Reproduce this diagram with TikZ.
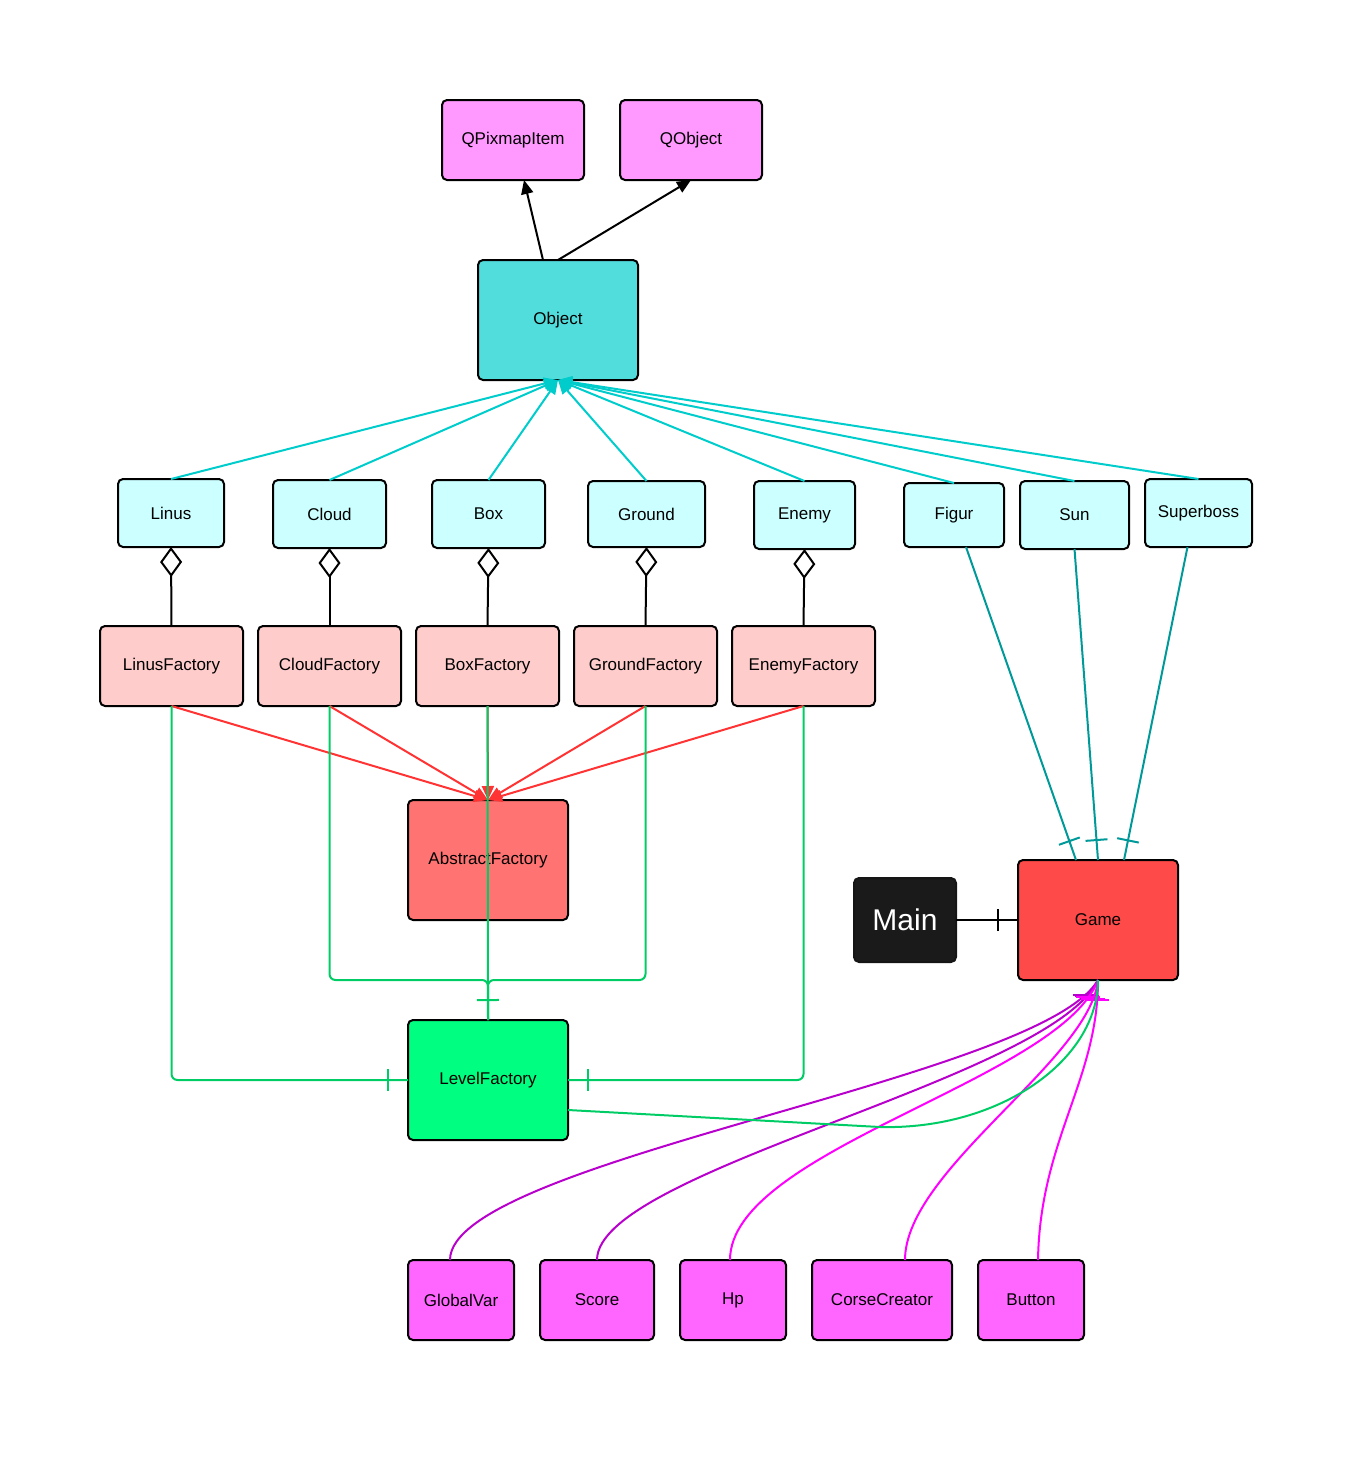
\documentclass[tikz,border=0pt]{standalone}
\usepackage{fontspec}
\setmainfont{Liberation Sans}
\usepackage{tikz}
\usetikzlibrary{positioning, arrows.meta, decorations.markings}
\definecolor{qtrosa}{HTML}{FF99FF}
\definecolor{objtuerkis}{HTML}{52DDDD}
\definecolor{hellcyan}{HTML}{CCFFFF}
\definecolor{hellrot}{HTML}{FFCCCC}
\definecolor{abstraktrot}{HTML}{FF7373}
\definecolor{spielrot}{HTML}{FF4A4A}
\definecolor{levelgruen}{HTML}{00FF80}
\definecolor{teilrosa}{HTML}{FF66FF}
\definecolor{mainschwarz}{HTML}{1A1A1A}
\definecolor{tuerkis}{HTML}{00CCCC}
\definecolor{dunkeltuerkis}{HTML}{009999}
\definecolor{pfeilrot}{HTML}{FF3333}
\definecolor{liniengruen}{HTML}{00CC66}
\definecolor{lila}{HTML}{B800CC}
\definecolor{magenta}{HTML}{FF00FF}

\begin{document}
\begin{tikzpicture}[x=1pt, y=-1pt,
    node distance=15pt and 15pt,
    every node/.style={font=\fontsize{17}{20}\selectfont},
    kasten/.style={draw=black, line width=2pt, rounded corners=5pt, align=center,
        inner sep=0pt, outer sep=0pt},
    qt/.style={kasten, fill=qtrosa, minimum width=142pt, minimum height=80pt},
    klasse/.style={kasten, fill=hellcyan, minimum height=68pt},
    fabrik/.style={kasten, fill=hellrot, minimum width=143pt, minimum height=80pt},
    gross/.style={kasten, minimum width=160pt, minimum height=120pt},
    teil/.style={kasten, fill=teilrosa, minimum height=80pt},
    erbt/.style={-{Triangle[length=14pt, width=12pt]}, line width=2pt, color=#1},
    aggr/.style={-{Diamond[open, length=30pt, width=22pt]}, line width=2pt},
    eins/.style={postaction={decorate, decoration={markings,
        mark=at position -20pt with {\draw[-, line width=2pt] (0,-11pt) -- (0,11pt);}}}},
    unten/.style={postaction={decorate, decoration={markings,
        mark=at position 20pt with {\pgftransformresetnontranslations
          \draw[-, line width=2pt] (-12pt,0) -- (12pt,0);}}}},
    gruenlinie/.style={line width=2pt, color=liniengruen, rounded corners=6pt},
    spiellinie/.style={line width=2pt, color=#1, unten}
]
\useasboundingbox (0,0) rectangle (1363,1476);

% Qt-Basisklassen und Object
\node[qt] (qpix) at (513,140) {QPixmapItem};
\node[qt] (qobj) at (691,140) {QObject};
\node[gross, fill=objtuerkis] (obj) at (558,320) {Object};

% Spielobjekte
\node[klasse, minimum width=106pt] (linus) at (171,513) {Linus};
\node[klasse, minimum width=113pt] (cloud) at (329.5,514) {Cloud};
\node[klasse, minimum width=113pt] (boxc) at (488.5,514) {Box};
\node[klasse, minimum width=117pt, minimum height=66pt] (ground) at (646.5,514) {Ground};
\node[klasse, minimum width=101pt] (enemy) at (804.5,515) {Enemy};
\node[klasse, minimum width=100pt, minimum height=64pt] (figur) at (954,515) {Figur};
\node[klasse, minimum width=109pt] (sun) at (1074.5,515) {Sun};
\node[klasse, minimum width=107pt] (superboss) at (1198.5,513) {Superboss};

% Fabriken
\node[fabrik] (lf) at (171.5,666) {LinusFactory};
\node[fabrik, right=of lf] (cf) {CloudFactory};
\node[fabrik, right=of cf] (bf) {BoxFactory};
\node[fabrik, right=of bf] (gf) {GroundFactory};
\node[fabrik, right=of gf] (ef) {EnemyFactory};
\node[gross, fill=abstraktrot] (abs) at (488,860) {AbstractFactory};
\node[gross, fill=levelgruen] (lvl) at (488,1080) {LevelFactory};

% Spiel
\node[kasten, fill=mainschwarz, draw=mainschwarz!80!black, text=white,
    font=\fontsize{30}{36}\selectfont, minimum width=102pt, minimum height=84pt] (main) at (905,920) {Main};
\node[gross, fill=spielrot] (game) at (1098,920) {Game};

\node[teil, minimum width=106pt] (gv) at (461,1300) {GlobalVar};
\node[teil, minimum width=114pt, right=26pt of gv] (score) {Score};
\node[teil, minimum width=106pt, right=26pt of score] (hp) {Hp};
\node[teil, minimum width=140pt, right=26pt of hp] (cc) {CorseCreator};
\node[teil, minimum width=106pt, right=26pt of cc] (btn) {Button};

% Vererbung
\draw[erbt=black] ([xshift=-15pt]obj.north) -- ([xshift=11pt]qpix.south);
\draw[erbt=black] (obj.north) -- (qobj.south);
\draw[erbt=tuerkis] (linus.north) -- (obj.south);
\draw[erbt=tuerkis] (cloud.north) -- (obj.south);
\draw[erbt=tuerkis] (boxc.north) -- (obj.south);
\draw[erbt=tuerkis] (ground.north) -- (obj.south);
\draw[erbt=tuerkis] (enemy.north) -- (obj.south);
\draw[erbt=tuerkis] (figur.north) -- (obj.south);
\draw[erbt=tuerkis] (sun.north) -- (obj.south);
\draw[erbt=tuerkis] (superboss.north) -- (obj.south);

% Aggregation
\draw[aggr] (lf.north) -- (linus.south);
\draw[aggr] (cf.north) -- (cloud.south);
\draw[aggr] (bf.north) -- (boxc.south);
\draw[aggr] (gf.north) -- (ground.south);
\draw[aggr] (ef.north) -- (enemy.south);

\draw[erbt=pfeilrot] (lf.south) -- (abs.north);
\draw[erbt=pfeilrot] (cf.south) -- (abs.north);
\draw[erbt=pfeilrot] (bf.south) -- (abs.north);
\draw[erbt=pfeilrot] (gf.south) -- (abs.north);
\draw[erbt=pfeilrot] (ef.south) -- (abs.north);

% LevelFactory
\draw[gruenlinie] (cf.south) -- ++(0,274) -| (lvl.north);
\draw[gruenlinie] (gf.south) -- ++(0,274) -| (lvl.north);
\draw[gruenlinie, eins] (bf.south) -- (lvl.north);
\draw[gruenlinie, eins] (lf.south) |- (lvl.west);
\draw[gruenlinie, eins] (ef.south) |- (lvl.east);

% Game
\draw[line width=2pt, eins] (main.east) -- (game.west);
\draw[line width=2pt, color=dunkeltuerkis, eins] ([xshift=12pt]figur.south) -- ([xshift=-22pt]game.north);
\draw[line width=2pt, color=dunkeltuerkis, eins] (sun.south) -- (game.north);
\draw[line width=2pt, color=dunkeltuerkis, eins] ([xshift=-11pt]superboss.south) -- ([xshift=26pt]game.north);

\draw[spiellinie=lila] (game.south) .. controls (1040,1080) and (450,1160) .. ([xshift=-11pt]gv.north);
\draw[spiellinie=lila] (game.south) .. controls (1050,1080) and (597,1170) .. (score.north);
\draw[spiellinie=magenta] (game.south) .. controls (1060,1080) and (730,1150) .. ([xshift=-3pt]hp.north);
\draw[spiellinie=magenta] (game.south) .. controls (1090,1060) and (905,1170) .. ([xshift=23pt]cc.north);
\draw[spiellinie=magenta] (game.south) .. controls (1098,1080) and (1040,1140) .. ([xshift=7pt]btn.north);
\draw[gruenlinie, rounded corners=0pt] ([yshift=-30pt]lvl.east) -- (880,1127) .. controls (1000,1130) and (1098,1060) .. (game.south);
\end{tikzpicture}
\end{document}
